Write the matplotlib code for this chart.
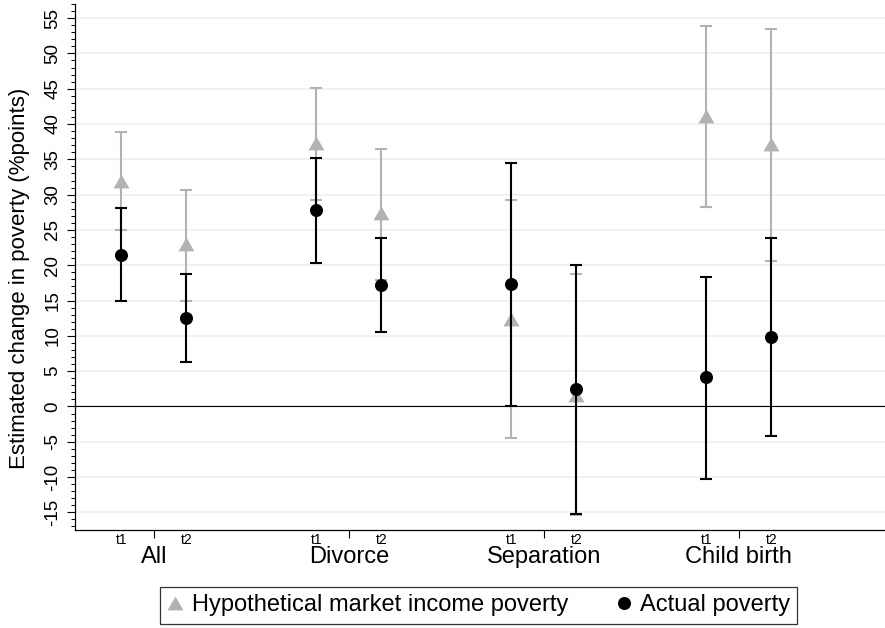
import matplotlib
matplotlib.use('Agg')
import matplotlib.pyplot as plt
from matplotlib.lines import Line2D
from matplotlib.ticker import MultipleLocator, FixedLocator
import numpy as np

plt.rcParams['font.family'] = ['Liberation Sans', 'DejaVu Sans']
plt.rcParams['axes.unicode_minus'] = False

groups = ['All', 'Divorce', 'Separation', 'Child birth']
periods = ['t1', 't2']

# order: All t1, All t2, Divorce t1, Divorce t2, Separation t1, Separation t2, Child birth t1, Child birth t2
hyp_est = [32.0, 23.0, 37.3, 27.4, 12.4, 1.6, 41.2, 37.2]
hyp_lo = [25.0, 15.0, 29.2, 17.9, -4.5, -15.4, 28.3, 20.6]
hyp_hi = [38.8, 30.7, 45.1, 36.5, 29.2, 18.7, 53.9, 53.4]
act_est = [21.5, 12.5, 27.8, 17.2, 17.3, 2.4, 4.1, 9.8]
act_lo = [14.9, 6.3, 20.3, 10.6, 0.0, -15.2, -10.3, -4.2]
act_hi = [28.1, 18.8, 35.2, 23.8, 34.5, 20.0, 18.4, 23.9]

series_labels = ['Hypothetical market income poverty', 'Actual poverty']

GRAY = '#B2B2B2'
BLACK = '#000000'

x = np.array([g * 3 + p + 1 for g in range(len(groups)) for p in range(len(periods))], dtype=float)
group_centers = np.array([g * 3 + 1.5 for g in range(len(groups))])

fig = plt.figure(figsize=(8.85, 6.28), dpi=100)
ax = fig.add_axes([75 / 885, 98 / 628, 810 / 885, 526 / 628])

tri = [(-1, -0.866), (1, -0.866), (0, 0.866)]

def draw(est, lo, hi, color, marker, ms, z):
    est = np.array(est); lo = np.array(lo); hi = np.array(hi)
    yerr = np.vstack([est - lo, hi - est])
    ax.errorbar(x, est, yerr=yerr, fmt='none', ecolor=color, elinewidth=1.5,
                capsize=4.3, capthick=1.5, zorder=z)
    ax.plot(x, est, linestyle='none', marker=marker, markersize=ms,
            color=color, markeredgewidth=0, zorder=z + 0.1)

draw(hyp_est, hyp_lo, hyp_hi, GRAY, tri, 11.5, 3)
draw(act_est, act_lo, act_hi, BLACK, 'o', 9.4, 4)

ax.set_xlim(0.285, 12.75)
ax.set_ylim(-17.5, 57.0)

# y axis
ax.set_yticks(np.arange(-15, 56, 5))
ax.yaxis.set_minor_locator(MultipleLocator(1))
ax.tick_params(axis='y', which='major', length=5.8, width=0.8, labelsize=13.5,
               labelrotation=90, pad=4)
ax.tick_params(axis='y', which='minor', length=3, width=0.7)
for lab in ax.get_yticklabels():
    lab.set_va('center')
ax.yaxis.grid(True, which='major', color='#EAF2F3', linewidth=1.3)
ax.set_axisbelow(True)
ax.axhline(0, color='black', linewidth=0.8, zorder=2)

# x axis: group labels at major ticks, period labels at minor positions
ax.xaxis.set_major_locator(FixedLocator(group_centers))
ax.set_xticklabels(groups)
ax.xaxis.set_minor_locator(FixedLocator(x))
ax.xaxis.set_minor_formatter(plt.FixedFormatter([periods[i % 2] for i in range(len(x))]))
ax.tick_params(axis='x', which='major', length=5.8, width=0.8, labelsize=17, pad=6)
ax.tick_params(axis='x', which='minor', length=0, labelsize=10, pad=2.2)

for side in ['top', 'right']:
    ax.spines[side].set_visible(False)
for side in ['left', 'bottom']:
    ax.spines[side].set_linewidth(0.9)

fig.text(20 / 885, 1 - 278 / 628, 'Estimated change in poverty (%points)',
         rotation=90, ha='center', va='center', fontsize=16)

handles = [
    Line2D([], [], linestyle='none', marker=tri, markersize=11.5, color=GRAY, markeredgewidth=0),
    Line2D([], [], linestyle='none', marker='o', markersize=9.4, color=BLACK, markeredgewidth=0),
]
leg = fig.legend(handles, series_labels, loc='center', bbox_to_anchor=(478.5 / 885, 1 - 605.5 / 628),
                 ncol=2, fontsize=17, frameon=True, fancybox=False, edgecolor='black',
                 handlelength=0.7, handletextpad=0.35, columnspacing=2.0,
                 borderpad=0.3, borderaxespad=0)
leg.get_frame().set_linewidth(0.9)

fig.savefig('out.png', dpi=100)
